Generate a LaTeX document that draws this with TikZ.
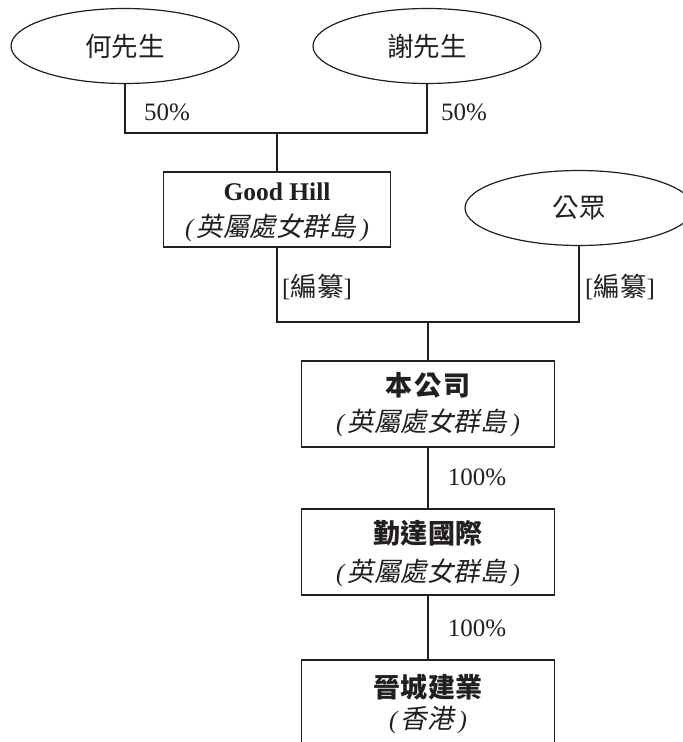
\documentclass[tikz,border=0pt]{standalone}
\usepackage{fontspec}
\setmainfont{Liberation Serif}
\newfontfamily\cjk[Scale=1.06]{Noto Sans CJK TC}
\newfontfamily\cjki[Scale=1.06,FakeSlant=0.2]{Noto Sans CJK TC}
\usetikzlibrary{shapes.geometric}
\definecolor{ink}{HTML}{231F20}
\newcommand{\islands}[1]{(\kern3pt{\cjki #1}\kern5pt)}
\begin{document}
\begin{tikzpicture}[x=1pt,y=-1pt,
  owner/.style={ellipse, draw=ink, line width=1.2pt, minimum width=228pt, minimum height=75pt, inner sep=0pt, text=ink, font=\cjk\fontsize{25}{28}\selectfont},
  entity/.style={rectangle, draw=ink, line width=1.2pt, minimum width=253pt, minimum height=86pt, inner sep=0pt},
  title/.style={text=ink, inner sep=0pt, font=\fontsize{25.5}{28}\selectfont\bfseries},
  sub/.style={text=ink, inner sep=0pt, font=\fontsize{25}{28}\selectfont\itshape},
  pct/.style={text=ink, inner sep=0pt, font=\fontsize{25}{28}\selectfont},
  link/.style={draw=ink, line width=1.2pt}]
\useasboundingbox (0,0) rectangle (683,742);

% owners
\node[owner] (e1) at (125,46) {何先生};
\node[owner] (e2) at (427,46) {謝先生};
\node[owner] (pub) at (579,208) {公眾};

% entities
\node[entity, minimum width=227pt, minimum height=75pt] (gh) at (277,209.5) {};
\node[title] (gh1) at (277,192) {Good Hill};
\node[sub] (gh2) at (277,228) {\islands{英屬處女群島}};

\node[entity] (b1) at (428,404) {};
\node[title] (b1a) at (428,385) {\cjk\bfseries 本\kern2pt 公\kern2pt 司};
\node[sub] (b1b) at (428,423) {\islands{英屬處女群島}};

\node[entity] (b2) at (428,552) {};
\node[title] (b2a) at (428,533) {\cjk\bfseries 勤達國際};
\node[sub] (b2b) at (428,573) {\islands{英屬處女群島}};

\node[entity, minimum height=100pt] (b3) at (428,710) {};
\node[title] (b3a) at (428,687) {\cjk\bfseries 晉城建業};
\node[sub] (b3b) at (428,720) {\islands{香港}};

% junctions
\coordinate (j1) at (277,133);
\coordinate (j2) at (428,322);

% connectors
\draw[link] (e1.south) |- (j1) -| (e2.south);
\draw[link] (j1) -- (gh.north);
\draw[link] (gh.south) |- (j2) -| (pub.south);
\draw[link] (j2) -- (b1.north);
\draw[link] (b1.south) -- (b2.north);
\draw[link] (b2.south) -- (b3.north);

% labels
\node[pct] (l1) at (167,112) {50\%};
\node[pct] (l2) at (464,112) {50\%};
\node[pct] (l3) at (317,287) {[{\cjk 編纂}]};
\node[pct] (l4) at (620,287) {[{\cjk 編纂}]};
\node[pct] (l5) at (477,477) {100\%};
\node[pct] (l6) at (477,628) {100\%};
\end{tikzpicture}
\end{document}
